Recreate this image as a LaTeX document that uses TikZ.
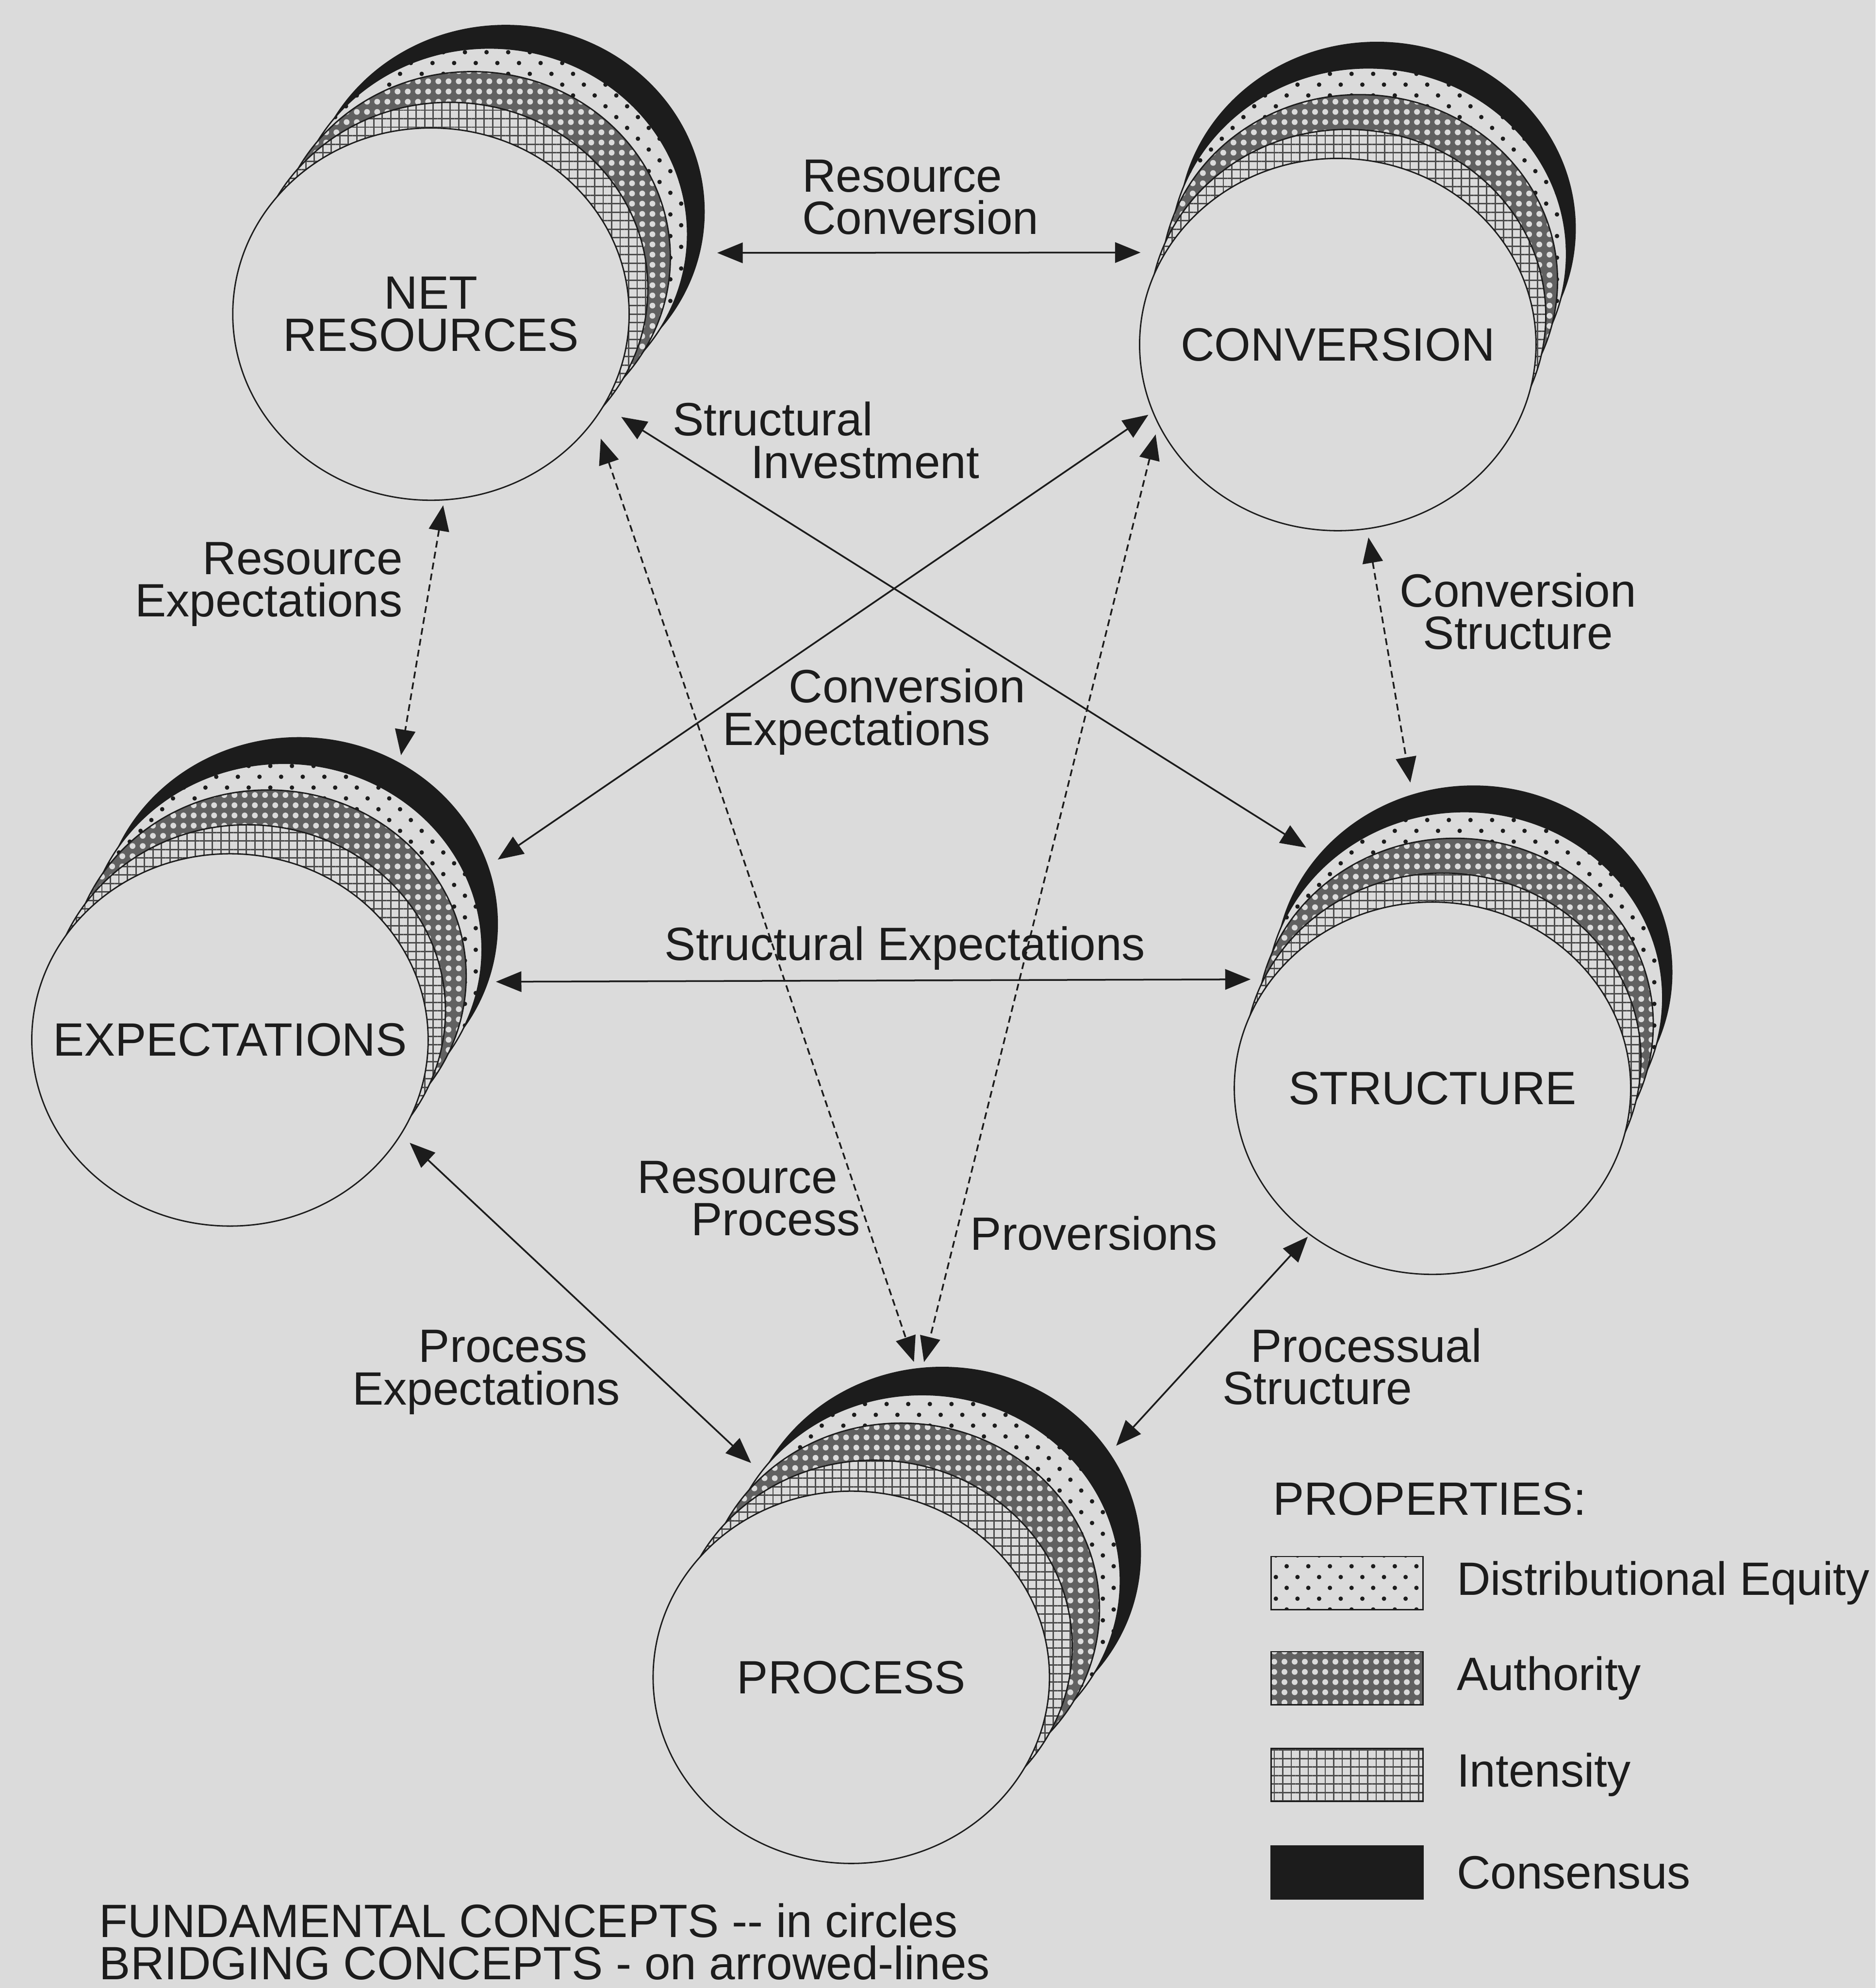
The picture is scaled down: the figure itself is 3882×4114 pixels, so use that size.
\documentclass[tikz,border=0pt]{standalone}
\usepackage{fontspec}
\setmainfont{Liberation Sans}
\usetikzlibrary{positioning,shapes.geometric,patterns.meta,arrows.meta}

\definecolor{paper}{RGB}{219,219,219}
\definecolor{ink}{RGB}{28,28,28}

\tikzset{
  disc/.style={ellipse, minimum width=8.2cm, minimum height=7.7cm, inner sep=0pt, draw=ink, line width=0.8pt},
  consensus/.style={fill=ink},
  equity/.style={preaction={fill=paper}, pattern={Dots[distance=9pt,radius=1.3pt,angle=45]}, pattern color=ink},
  authority/.style={preaction={fill=black!62}, pattern={Dots[distance=6pt,radius=1.7pt]}, pattern color=paper},
  intensity/.style={preaction={fill=paper}, pattern={Hatch[distance=5pt,line width=0.8pt]}, pattern color=black!70},
  front/.style={disc, fill=paper},
  bridge/.style={<->, draw=ink, line width=1pt},
  dbridge/.style={bridge, dash pattern=on 4pt off 2.5pt},
  lbl/.style={inner sep=0pt, text=ink},
  key/.style={draw=ink, line width=0.8pt, minimum width=3.14cm, minimum height=1.1cm, inner sep=0pt}
}

% one stacked concept: name, x, y, shift x, shift up, label
\newcommand{\concept}[6]{%
  \node[disc, consensus] (#1-k) at ({#2+#4},{#3-#5}) {};
  \node[disc, equity]    (#1-e) at ({#2+0.78*#4},{#3-0.78*#5}) {};
  \node[disc, authority] (#1-a) at ({#2+0.55*#4},{#3-0.55*#5}) {};
  \node[disc, intensity] (#1-i) at ({#2+0.25*#4},{#3-0.25*#5}) {};
  \node[front] (#1) at (#2,#3) {};
  \node[lbl, align=center] (#1-t) at (#1) {#6};
}

\begin{document}
\begin{tikzpicture}[x=0.01cm, y=-0.01cm, font=\fontsize{27.5pt}{25pt}\selectfont,
  >={Triangle[length=15pt,width=12pt]}]

\useasboundingbox[fill=paper] (0,0) rectangle (3882,4114);

% Fundamental concepts
\concept{nr}{892}{650}{155}{212}{NET\\RESOURCES}
\concept{conv}{2769}{713}{81}{240}{CONVERSION}
\concept{exp}{476}{2152}{143}{240}{EXPECTATIONS}
\concept{str}{2965}{2252}{85}{240}{STRUCTURE}
\concept{proc}{1762}{3471}{188}{256}{PROCESS}

% Bridging concepts
\draw[bridge, shorten <=3.6mm, shorten >=5mm] (nr-k.-12) -- (conv.152);
\draw[bridge, shorten <=4.2mm, shorten >=3mm] (nr.-28) -- (str-k.143);
\draw[dbridge, shorten <=1mm, shorten >=1.6mm] (nr.-86) -- (exp-k.58);
\draw[bridge, shorten <=1mm, shorten >=2.4mm] (conv.200) -- (exp-k.17);
\draw[dbridge, shorten <=4mm, shorten >=1.4mm] (nr.-33) -- (proc-k.98);
\draw[dbridge, shorten <=2.1mm, shorten >=1.2mm] (conv.204) -- (proc-k.96);
\draw[dbridge, shorten <=1.7mm, shorten >=2.5mm] (conv.-81) -- (str-k.109);
\draw[bridge, shorten <=1.6mm, shorten >=4.2mm] (exp-k.-17) -- (str.146);
\draw[bridge, shorten <=2.4mm, shorten >=3.2mm] (exp.-29) -- (proc-k.156);
\draw[bridge, shorten <=0.5mm, shorten >=2mm] (str.-130) -- (proc-k.31);

\node[lbl, align=left, anchor=west] (l-rc) at (1660,408) {Resource\\Conversion};
\node[lbl, align=left, anchor=west] (l-si) at (1392,911) {Structural\\\hspace*{1.61cm}Investment};
\node[lbl, align=right, anchor=east] (l-re) at (834,1209) {Resource\\Expectations};
\node[lbl, align=left, anchor=west] (l-ce) at (1495,1473) {\hspace*{1.37cm}Conversion\\Expectations};
\node[lbl, align=center] (l-cs) at (3142,1265) {Conversion\\Structure};
\node[lbl] (l-se) at (1873,1962) {Structural Expectations};
\node[lbl, align=left, anchor=west] (l-rp) at (1319,2480) {Resource\\\hspace*{1.11cm}Process};
\node[lbl, anchor=west] (l-pv) at (2008,2552) {Proversions};
\node[lbl, align=left, anchor=west] (l-pe) at (729,2840) {\hspace*{1.37cm}Process\\Expectations};
\node[lbl, align=left, anchor=west] (l-ps) at (2530,2828) {\hspace*{0.58cm}Processual\\Structure};

% Legend
\node[lbl, anchor=west] (props) at (2634,3102) {PROPERTIES:};
\node[key, equity] (key-e) at (2788,3276) {};
\node[key, authority] (key-a) at (2788,3473) {};
\node[key, intensity] (key-i) at (2788,3673) {};
\node[key, consensus] (key-k) at (2788,3875) {};
\node[lbl, right=6.8mm of key-e] (key-e-t) {Distributional Equity};
\node[lbl, right=6.8mm of key-a] (key-a-t) {Authority};
\node[lbl, right=6.8mm of key-i] (key-i-t) {Intensity};
\node[lbl, right=6.8mm of key-k] (key-k-t) {Consensus};

\node[lbl, align=left, anchor=west] (notes) at (205,4018) {FUNDAMENTAL CONCEPTS -{}- in circles\\BRIDGING CONCEPTS - on arrowed-lines};

\end{tikzpicture}
\end{document}
